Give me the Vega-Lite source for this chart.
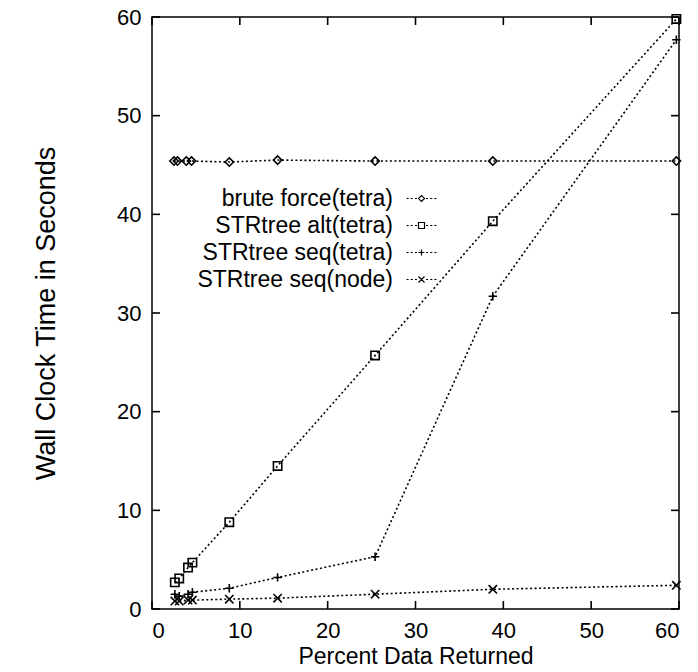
{
  "$schema": "https://vega.github.io/schema/vega-lite/v6.json",
  "width": 527,
  "height": 592,
  "autosize": {"type": "none"},
  "padding": {"left": 152, "top": 17, "right": 19, "bottom": 63},
  "background": "white",
  "config": {
    "view": {"stroke": "black", "strokeWidth": 1.5},
    "font": "Liberation Sans",
    "axis": {
      "domain": false,
      "grid": false,
      "ticks": false,
      "labelColor": "black",
      "labelFontSize": 22,
      "labelFont": "Liberation Sans",
      "titleFontSize": 23,
      "titleFontWeight": "normal",
      "titleColor": "black",
      "titleFont": "Liberation Sans"
    }
  },
  "datasets": {
    "tickvals": [{"t": 0}, {"t": 10}, {"t": 20}, {"t": 30}, {"t": 40}, {"t": 50}, {"t": 60}],
    "runs": [
      {"series": "brute force(tetra)", "x": 2.5, "y": 45.4},
      {"series": "brute force(tetra)", "x": 2.9, "y": 45.4},
      {"series": "brute force(tetra)", "x": 3.9, "y": 45.4},
      {"series": "brute force(tetra)", "x": 4.5, "y": 45.4},
      {"series": "brute force(tetra)", "x": 8.8, "y": 45.3},
      {"series": "brute force(tetra)", "x": 14.3, "y": 45.5},
      {"series": "brute force(tetra)", "x": 25.4, "y": 45.4},
      {"series": "brute force(tetra)", "x": 38.8, "y": 45.4},
      {"series": "brute force(tetra)", "x": 59.7, "y": 45.4},
      {"series": "STRtree alt(tetra)", "x": 2.6, "y": 2.7},
      {"series": "STRtree alt(tetra)", "x": 3.1, "y": 3.1},
      {"series": "STRtree alt(tetra)", "x": 4.1, "y": 4.2},
      {"series": "STRtree alt(tetra)", "x": 4.6, "y": 4.7},
      {"series": "STRtree alt(tetra)", "x": 8.8, "y": 8.8},
      {"series": "STRtree alt(tetra)", "x": 14.3, "y": 14.5},
      {"series": "STRtree alt(tetra)", "x": 25.4, "y": 25.7},
      {"series": "STRtree alt(tetra)", "x": 38.8, "y": 39.3},
      {"series": "STRtree alt(tetra)", "x": 59.7, "y": 59.8},
      {"series": "STRtree seq(tetra)", "x": 2.6, "y": 1.5},
      {"series": "STRtree seq(tetra)", "x": 3.1, "y": 1.3},
      {"series": "STRtree seq(tetra)", "x": 4.1, "y": 1.5},
      {"series": "STRtree seq(tetra)", "x": 4.6, "y": 1.7},
      {"series": "STRtree seq(tetra)", "x": 8.8, "y": 2.1},
      {"series": "STRtree seq(tetra)", "x": 14.3, "y": 3.2},
      {"series": "STRtree seq(tetra)", "x": 25.4, "y": 5.3},
      {"series": "STRtree seq(tetra)", "x": 38.8, "y": 31.7},
      {"series": "STRtree seq(tetra)", "x": 59.7, "y": 57.7},
      {"series": "STRtree seq(node)", "x": 2.6, "y": 0.8},
      {"series": "STRtree seq(node)", "x": 3.1, "y": 0.8},
      {"series": "STRtree seq(node)", "x": 4.1, "y": 0.9},
      {"series": "STRtree seq(node)", "x": 4.6, "y": 0.9},
      {"series": "STRtree seq(node)", "x": 8.8, "y": 1.0},
      {"series": "STRtree seq(node)", "x": 14.3, "y": 1.1},
      {"series": "STRtree seq(node)", "x": 25.4, "y": 1.5},
      {"series": "STRtree seq(node)", "x": 38.8, "y": 2.0},
      {"series": "STRtree seq(node)", "x": 59.7, "y": 2.4}
    ]
  },
  "layer": [
    {
      "data": {"name": "runs"},
      "mark": {"type": "line", "strokeDash": [2, 2.5], "strokeWidth": 1.6, "color": "black"},
      "encoding": {
        "x": {"field": "x", "type": "quantitative", "scale": {"domain": [0, 60], "nice": false},
              "axis": {"values": [0, 10, 20, 30, 40, 50, 60], "title": "Percent Data Returned", "labelPadding": 11, "titlePadding": 4}},
        "y": {"field": "y", "type": "quantitative", "scale": {"domain": [0, 60], "nice": false},
              "axis": {"values": [0, 10, 20, 30, 40, 50, 60], "title": "Wall Clock Time in Seconds", "titleFontSize": 27, "labelPadding": 11, "titlePadding": 56}},
        "detail": {"field": "series"}
      }
    },
    {
      "data": {"name": "runs"},
      "mark": {"type": "point", "filled": false, "color": "black", "strokeWidth": 1.6, "opacity": 1, "size": 70},
      "encoding": {
        "x": {"field": "x", "type": "quantitative"},
        "y": {"field": "y", "type": "quantitative"},
        "shape": {
          "field": "series",
          "type": "nominal",
          "scale": {
            "domain": ["brute force(tetra)", "STRtree alt(tetra)", "STRtree seq(tetra)", "STRtree seq(node)"],
            "range": ["diamond", "square", "M-1,0H1M0,-1V1", "M-1,-1L1,1M-1,1L1,-1"]
          },
          "legend": null
        }
      }
    },
    {
      "data": {"name": "runs"},
      "transform": [{"filter": "datum.x < 0"}],
      "mark": {"type": "point", "filled": false, "color": "black", "strokeWidth": 1.2, "opacity": 1},
      "encoding": {
        "x": {"field": "x", "type": "quantitative"},
        "y": {"field": "y", "type": "quantitative"},
        "shape": {
          "field": "series",
          "type": "nominal",
          "scale": {
            "domain": ["brute force(tetra)", "STRtree alt(tetra)", "STRtree seq(tetra)", "STRtree seq(node)"],
            "range": [
              "M-5,0H-4.3M-3.6,0H-2.9M-2.2,0H-1.5M1.5,0H2.2M2.9,0H3.6M4.3,0H5M-1,0L0,-1L1,0L0,1Z",
              "M-5,0H-4.3M-3.6,0H-2.9M-2.2,0H-1.5M1.5,0H2.2M2.9,0H3.6M4.3,0H5M-1,-1H1V1H-1Z",
              "M-5,0H-4.3M-3.6,0H-2.9M-2.2,0H-1.5M1.5,0H2.2M2.9,0H3.6M4.3,0H5M-1,0H1M0,-1V1",
              "M-5,0H-4.3M-3.6,0H-2.9M-2.2,0H-1.5M1.5,0H2.2M2.9,0H3.6M4.3,0H5M-1,-1L1,1M-1,1L1,-1"
            ]
          },
          "legend": {
            "title": null,
            "orient": "none",
            "legendX": 258,
            "legendY": 170,
            "padding": 0,
            "rowPadding": 3,
            "symbolSize": 36,
            "symbolStrokeWidth": 1.2,
            "symbolStrokeColor": "black",
            "symbolFillColor": "transparent",
            "symbolOpacity": 1,
            "labelFontSize": 23,
            "labelFont": "Liberation Sans",
            "labelColor": "black",
            "labelAlign": "right",
            "labelOffset": -40,
            "labelLimit": 400
          }
        }
      }
    },
    {
      "data": {"name": "tickvals"},
      "mark": {"type": "point", "shape": "M0,0V-2", "size": 64, "filled": false, "color": "black", "strokeWidth": 1.6, "opacity": 1},
      "encoding": {
        "x": {"field": "t", "type": "quantitative"},
        "y": {"datum": 0, "type": "quantitative"}
      }
    },
    {
      "data": {"name": "tickvals"},
      "mark": {"type": "point", "shape": "M0,0V2", "size": 64, "filled": false, "color": "black", "strokeWidth": 1.6, "opacity": 1},
      "encoding": {
        "x": {"field": "t", "type": "quantitative"},
        "y": {"datum": 60, "type": "quantitative"}
      }
    },
    {
      "data": {"name": "tickvals"},
      "mark": {"type": "point", "shape": "M0,0H2", "size": 64, "filled": false, "color": "black", "strokeWidth": 1.6, "opacity": 1},
      "encoding": {
        "y": {"field": "t", "type": "quantitative"},
        "x": {"datum": 0, "type": "quantitative"}
      }
    },
    {
      "data": {"name": "tickvals"},
      "mark": {"type": "point", "shape": "M0,0H-2", "size": 64, "filled": false, "color": "black", "strokeWidth": 1.6, "opacity": 1},
      "encoding": {
        "y": {"field": "t", "type": "quantitative"},
        "x": {"datum": 60, "type": "quantitative"}
      }
    }
  ],
  "resolve": {"scale": {"shape": "independent"}}
}
